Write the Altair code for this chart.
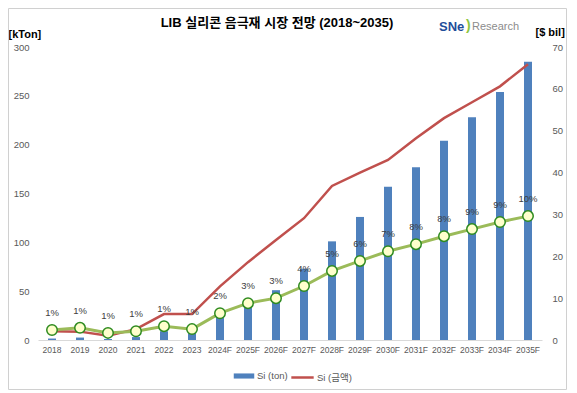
import altair as alt
import pandas as pd

years = ["2018", "2019", "2020", "2021", "2022", "2023", "2024F", "2025F", "2026F",
         "2027F", "2028F", "2029F", "2030F", "2031F", "2032F", "2033F", "2034F", "2035F"]
si_ton = [1.5, 2.5, 1.0, 3.0, 9, 7, 25, 37, 51, 73, 101, 126, 157, 177, 204, 228, 254, 285]
si_usd = [2.1, 2.0, 1.0, 2.6, 6.2, 6.2, 12.8, 18.6, 23.9, 29.1, 36.8, 40.0, 43.0, 48.2, 53.0, 56.8, 60.6, 65.9]
share_pos = [2.4, 2.9, 1.7, 2.1, 3.3, 2.6, 6.4, 8.8, 10.0, 12.9, 16.5, 18.9, 21.2, 22.9, 24.8, 26.5, 28.2, 29.6]
share_label = ["1%", "1%", "1%", "1%", "1%", "1%", "2%", "3%", "3%", "4%", "5%", "6%",
               "7%", "8%", "8%", "9%", "9%", "10%"]
left_ticks = [0, 50, 100, 150, 200, 250, 300]
right_ticks = [0, 10, 20, 30, 40, 50, 60, 70]
title_text = "LIB 실리콘 음극재 시장 전망 (2018~2035)"

df = pd.DataFrame({"year": years, "ton": si_ton, "usd": si_usd,
                   "share": share_pos, "label": share_label})

FONT = "Liberation Sans, Arial, Noto Sans CJK KR, sans-serif"
LBL = "#595959"

base = alt.Chart(df)
x = alt.X("year:N", sort=years,
          axis=alt.Axis(title=None, labelAngle=0, ticks=False, domainColor="#d9d9d9",
                        labelColor=LBL, labelFontSize=8.5, labelFont=FONT, labelPadding=5))

bars = base.mark_bar(size=8).encode(
    x=x,
    y=alt.Y("ton:Q", scale=alt.Scale(domain=[0, 300]),
            axis=alt.Axis(values=left_ticks, grid=False, ticks=False, domain=False,
                          labelColor=LBL, labelFontSize=9.5, labelFont=FONT, labelPadding=9,
                          title="[kTon]", titleAngle=0, titleX=-30, titleY=-13,
                          titleAlign="left", titleBaseline="middle", titleFontWeight="bold",
                          titleFontSize=11, titleColor="#000000", titleFont=FONT)),
    color=alt.Color("s1:N", scale=alt.Scale(domain=["Si (ton)"], range=["#4f81bd"]),
                    legend=alt.Legend(orient="none", legendX=195, legendY=318, title=None,
                                      symbolType="M-1,-0.25H1V0.25H-1Z", symbolSize=420,
                                      labelFont=FONT, labelFontSize=9.5, labelColor=LBL,
                                      labelOffset=2))
).transform_calculate(s1="'Si (ton)'")

yr = alt.Y("usd:Q", scale=alt.Scale(domain=[0, 70]),
           axis=alt.Axis(orient="right", values=right_ticks, grid=False, ticks=False, domain=False,
                         labelColor=LBL, labelFontSize=9.5, labelFont=FONT, labelPadding=10,
                         title="[$ bil]", titleAngle=0, titleX=-7, titleY=-15,
                         titleAlign="left", titleBaseline="middle", titleFontWeight="bold",
                         titleFontSize=11, titleColor="#000000", titleFont=FONT))

red = base.mark_line(strokeWidth=2.5).encode(
    x=x, y=yr,
    color=alt.Color("s2:N", scale=alt.Scale(domain=["Si (금액)"], range=["#c0504d"]),
                    legend=alt.Legend(orient="none", legendX=252, legendY=318, title=None,
                                      symbolType="stroke", symbolSize=500, symbolStrokeWidth=2.5,
                                      labelFont=FONT, labelFontSize=9.5, labelColor=LBL,
                                      labelOffset=2))
).transform_calculate(s2="'Si (금액)'")

green = base.mark_line(color="#9bbb59", strokeWidth=3).encode(x=x, y=alt.Y("share:Q"))
pts = base.mark_point(filled=True, fill="#ffffcc", stroke="#2e8b1f", strokeWidth=1.5,
                      size=110, opacity=1).encode(x=x, y=alt.Y("share:Q"))
txt = base.mark_text(dy=-17, fontSize=9.5, color="#404040", font=FONT).encode(
    x=x, y=alt.Y("share:Q"), text="label:N")

right = alt.layer(red, green, pts, txt)

deco_df = pd.DataFrame({"a": [1]})
frame = alt.Chart(deco_df).mark_rect(fill=None, stroke="#d0d0d0", strokeWidth=1).encode(
    x=alt.value(-29.5), x2=alt.value(528.5), y=alt.value(-38.5), y2=alt.value(342.5))
title = alt.Chart(deco_df).mark_text(text=title_text, fontSize=13, fontWeight="bold",
                                     color="#000000", align="center", baseline="middle",
                                     font=FONT).encode(x=alt.value(239), y=alt.value(-24))
logo1 = alt.Chart(deco_df).mark_text(text="SNe", fontSize=13, fontWeight="bold", color="#1f4e9a",
                                     align="left", baseline="middle",
                                     font=FONT).encode(x=alt.value(401), y=alt.value(-20))
logo2 = alt.Chart(deco_df).mark_text(text=")", fontSize=14, fontWeight="bold", color="#8dc63f",
                                     align="left", baseline="middle",
                                     font=FONT).encode(x=alt.value(428), y=alt.value(-21))
logo3 = alt.Chart(deco_df).mark_text(text="Research", fontSize=11, color="#8c8c8c",
                                     align="left", baseline="middle",
                                     font=FONT).encode(x=alt.value(434), y=alt.value(-20))

chart = alt.layer(bars, right, frame, title, logo1, logo2, logo3).resolve_scale(
    y="independent", color="independent"
).properties(
    width=504, height=293,
    padding={"left": 30, "top": 39, "right": 27, "bottom": 50},
    autosize=alt.AutoSizeParams(type="none"),
).configure_view(stroke=None)

chart.save("out.html", embed_options={"renderer": "svg", "actions": False})
